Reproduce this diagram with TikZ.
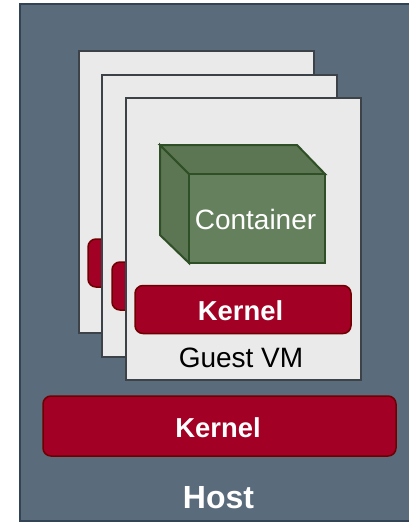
\documentclass[tikz,border=0pt]{standalone}
\usepackage{fontspec}
\setmainfont{Liberation Sans}
\definecolor{hostfill}{HTML}{5A6B7B}
\definecolor{hostline}{HTML}{314354}
\definecolor{vmfill}{HTML}{EAEAEA}
\definecolor{vmline}{HTML}{3C4248}
\definecolor{kernfill}{HTML}{A20025}
\definecolor{kernline}{HTML}{6F0000}
\definecolor{cubefront}{HTML}{64805C}
\definecolor{cubeside}{HTML}{5C7653}
\definecolor{cubeline}{HTML}{2F4F26}
\tikzset{
  box/.style={anchor=north west,inner sep=0pt,outer sep=0pt,line width=2pt},
  hostbox/.style={box,draw=hostline,fill=hostfill},
  vmbox/.style={box,draw=vmline,fill=vmfill,minimum width=235pt,minimum height=282pt},
  kernbox/.style={box,draw=kernline,fill=kernfill,rounded corners=8pt,line width=1.5pt},
  cubeface/.style={draw=cubeline,line width=2pt,line join=miter},
  lbl/.style={inner sep=0pt,font=\fontsize{28}{30}\selectfont},
  boldlbl/.style={inner sep=0pt,text=white,font=\bfseries\fontsize{27.4}{30}\selectfont}
}
\begin{document}
\begin{tikzpicture}[x=1pt,y=-1pt]
\useasboundingbox (0,0) rectangle (409,522);
\fill[white] (0,0) rectangle (409,522);
\node[hostbox,minimum width=392pt,minimum height=517pt] (host) at (19.5,4) {};
\node[vmbox] (vmA) at (79,51) {};
\node[kernbox,minimum width=216pt,minimum height=48pt] (kernA) at (88,239) {};
\node[vmbox] (vmB) at (102,74.5) {};
\node[kernbox,minimum width=216pt,minimum height=48pt] (kernB) at (112,262) {};
\node[vmbox] (vmC) at (125.5,98) {};
\node[kernbox,minimum width=216pt,minimum height=48pt] (kernC) at (135,285.5) {};
\node[boldlbl] (kernClbl) at (240.5,310.5) {Kernel};
\node[lbl,anchor=base] (guest) at (241,367) {Guest VM};
\node[kernbox,minimum width=353pt,minimum height=60pt] (kernH) at (43,396) {};
\node[boldlbl] (kernHlbl) at (218,428) {Kernel};
\node[inner sep=0pt,text=white,font=\bfseries\fontsize{32}{34}\selectfont,anchor=base] (hostlbl) at (218.5,508) {Host};
% container cube
\draw[cubeface,fill=cubeside] (160,145) -- (189,174) -- (189,263) -- (160,235) -- cycle;
\draw[cubeface,fill=cubeside] (160,145) -- (297,145) -- (325,174) -- (189,174) -- cycle;
\node[box,draw=cubeline,fill=cubefront,minimum width=136pt,minimum height=89pt] (cont) at (189,174) {};
\node[lbl,text=white] (contlbl) at (255.5,219) {Container};
\end{tikzpicture}
\end{document}
